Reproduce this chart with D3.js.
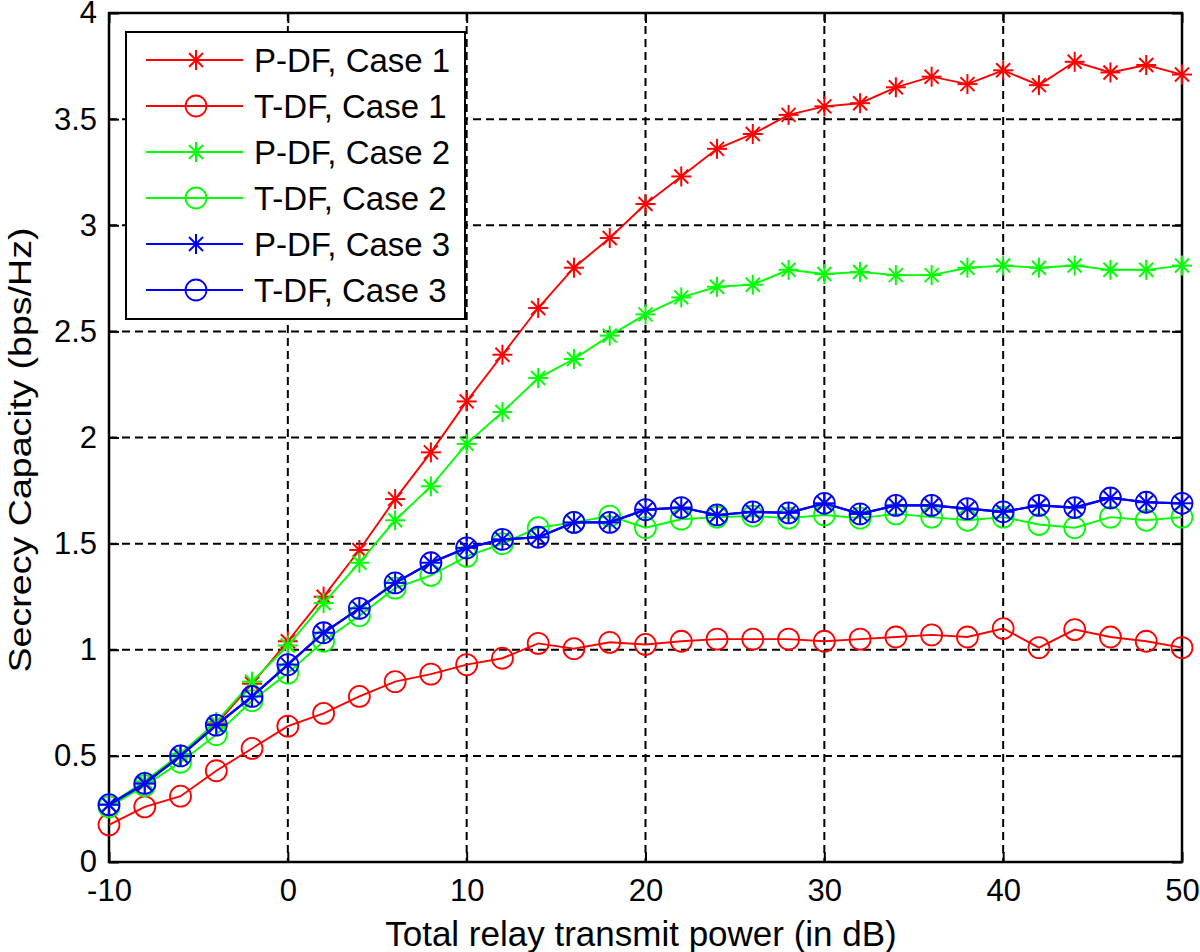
<!DOCTYPE html>
<html>
<head>
<meta charset="utf-8">
<script src="https://cdn.jsdelivr.net/npm/d3@7"></script>
<style>
  html, body { margin: 0; padding: 0; background: #fff; }
  svg { display: block; }
  text { font-family: Arial, "Liberation Sans", Helvetica, sans-serif; fill: #000; }
</style>
</head>
<body>
<svg id="chart" width="1200" height="952"></svg>
<script>
// ---- data ----
const xValues = [-10,-8,-6,-4,-2,0,2,4,6,8,10,12,14,16,18,20,22,24,26,28,30,32,34,36,38,40,42,44,46,48,50];

const pdfCase1 = [0.27,0.37,0.50,0.65,0.84,1.04,1.25,1.47,1.71,1.93,2.17,2.39,2.61,2.80,2.94,3.10,3.23,3.36,3.43,3.52,3.56,3.575,3.65,3.70,3.665,3.73,3.66,3.77,3.72,3.755,3.71];
const tdfCase1 = [0.175,0.26,0.31,0.43,0.535,0.64,0.70,0.78,0.85,0.885,0.93,0.96,1.03,1.005,1.035,1.025,1.04,1.05,1.05,1.05,1.04,1.05,1.06,1.07,1.06,1.10,1.01,1.095,1.06,1.04,1.01];
const pdfCase2 = [0.27,0.38,0.51,0.66,0.85,1.02,1.22,1.41,1.61,1.77,1.97,2.12,2.28,2.37,2.48,2.58,2.66,2.71,2.72,2.79,2.77,2.78,2.765,2.765,2.80,2.81,2.80,2.81,2.79,2.79,2.81];
const tdfCase2 = [0.26,0.36,0.47,0.60,0.76,0.89,1.04,1.16,1.29,1.35,1.44,1.50,1.575,1.60,1.63,1.575,1.615,1.625,1.63,1.62,1.635,1.62,1.64,1.625,1.61,1.625,1.59,1.575,1.625,1.61,1.625];
const pdfCase3 = [0.27,0.37,0.50,0.645,0.78,0.93,1.08,1.195,1.315,1.41,1.48,1.52,1.53,1.60,1.60,1.66,1.67,1.635,1.65,1.645,1.69,1.64,1.68,1.68,1.665,1.65,1.68,1.67,1.715,1.695,1.69];
const tdfCase3 = [0.27,0.37,0.50,0.645,0.78,0.93,1.08,1.195,1.315,1.41,1.48,1.52,1.53,1.60,1.60,1.66,1.67,1.635,1.65,1.645,1.69,1.64,1.68,1.68,1.665,1.65,1.68,1.67,1.715,1.695,1.69];

const seriesNames = ["P-DF, Case 1","T-DF, Case 1","P-DF, Case 2","T-DF, Case 2","P-DF, Case 3","T-DF, Case 3"];
const seriesValues = [pdfCase1, tdfCase1, pdfCase2, tdfCase2, pdfCase3, tdfCase3];
const seriesColors = ["#ff0000","#ff0000","#00ff00","#00ff00","#0000ff","#0000ff"];
const seriesMarkers = ["star","circle","star","circle","star","circle"];

const xTicks = [-10,0,10,20,30,40,50];
const xTickLabels = ["-10","0","10","20","30","40","50"];
const yTicks = [0,0.5,1,1.5,2,2.5,3,3.5,4];
const yTickLabels = ["0","0.5","1","1.5","2","2.5","3","3.5","4"];
const xLabel = "Total relay transmit power (in dB)";
const yLabel = "Secrecy Capacity (bps/Hz)";

// ---- layout ----
const L = 109, R = 1182, T = 13, B = 862;
const svg = d3.select("#chart");
const x = d3.scaleLinear().domain([-10, 50]).range([L, R]);
const y = d3.scaleLinear().domain([0, 4]).range([B, T]);

// grid
const grid = svg.append("g");
grid.selectAll("line.gx").data(xTicks.slice(1, -1)).enter().append("line")
  .attr("x1", d => x(d)).attr("x2", d => x(d)).attr("y1", T).attr("y2", B)
  .attr("stroke", "#000").attr("stroke-width", 2).attr("stroke-dasharray", "8,5");
grid.selectAll("line.gy").data(yTicks.slice(1, -1)).enter().append("line")
  .attr("x1", L).attr("x2", R).attr("y1", d => y(d)).attr("y2", d => y(d))
  .attr("stroke", "#000").attr("stroke-width", 2).attr("stroke-dasharray", "8,5");

// axes with inward ticks
const tickLen = 10;
const axB = svg.append("g").attr("transform", `translate(0,${B})`)
  .call(d3.axisBottom(x).tickValues(xTicks).tickSizeInner(-tickLen).tickSizeOuter(0).tickPadding(17).tickFormat((d, i) => xTickLabels[i]));
const axT = svg.append("g").attr("transform", `translate(0,${T})`)
  .call(d3.axisTop(x).tickValues(xTicks).tickSizeInner(-tickLen).tickSizeOuter(0).tickFormat(""));
const axL = svg.append("g").attr("transform", `translate(${L},0)`)
  .call(d3.axisLeft(y).tickValues(yTicks).tickSizeInner(-tickLen).tickSizeOuter(0).tickPadding(12).tickFormat((d, i) => yTickLabels[i]));
const axR = svg.append("g").attr("transform", `translate(${R},0)`)
  .call(d3.axisRight(y).tickValues(yTicks).tickSizeInner(-tickLen).tickSizeOuter(0).tickFormat(""));
[axB, axT, axL, axR].forEach(a => {
  a.select(".domain").remove();
  a.selectAll(".tick line").attr("stroke", "#000").attr("stroke-width", 2);
  a.selectAll("text").style("font-size", "31px").attr("fill", "#000");
});
axB.selectAll("text").attr("dy", "0.71em");

// box
svg.append("rect").attr("x", L).attr("y", T).attr("width", R - L).attr("height", B - T)
  .attr("fill", "none").attr("stroke", "#000").attr("stroke-width", 2.5);

// marker drawing
function drawMarker(g, type, color, cx, cy) {
  if (type === "circle") {
    g.append("circle").attr("cx", cx).attr("cy", cy).attr("r", 10.5)
      .attr("fill", "none").attr("stroke", color).attr("stroke-width", 1.8);
  } else {
    const s = 10, d = 7;
    const segs = [[0,-s,0,s],[-s,0,s,0],[-d,-d,d,d],[-d,d,d,-d]];
    segs.forEach(p => g.append("line")
      .attr("x1", cx + p[0]).attr("y1", cy + p[1]).attr("x2", cx + p[2]).attr("y2", cy + p[3])
      .attr("stroke", color).attr("stroke-width", 2));
  }
}

// series
const line = d3.line().x(d => x(d[0])).y(d => y(d[1]));
const plot = svg.append("g");
seriesValues.forEach((vals, i) => {
  const pts = xValues.map((xv, j) => [xv, vals[j]]);
  const g = plot.append("g");
  g.append("path").datum(pts).attr("d", line).attr("fill", "none")
    .attr("stroke", seriesColors[i]).attr("stroke-width", i >= 4 ? 2.2 : 1.9);
  pts.forEach(p => drawMarker(g, seriesMarkers[i], seriesColors[i], x(p[0]), y(p[1])));
});

// axis labels
svg.append("text").attr("x", 641).attr("y", 946).attr("text-anchor", "middle")
  .style("font-size", "35px").text(xLabel);
svg.append("text").attr("transform", "translate(31,450) rotate(-90)").attr("text-anchor", "middle")
  .style("font-size", "32px").attr("textLength", 445).attr("lengthAdjust", "spacingAndGlyphs").text(yLabel);

// legend
const lg = svg.append("g");
lg.append("rect").attr("x", 126).attr("y", 32).attr("width", 339).attr("height", 287)
  .attr("fill", "#fff").attr("stroke", "#000").attr("stroke-width", 2);
seriesNames.forEach((name, i) => {
  const cy = 60 + i * 46;
  lg.append("line").attr("x1", 146).attr("x2", 243).attr("y1", cy).attr("y2", cy)
    .attr("stroke", seriesColors[i]).attr("stroke-width", 1.9);
  drawMarker(lg, seriesMarkers[i], seriesColors[i], 196, cy);
  lg.append("text").attr("x", 254).attr("y", cy + 12).style("font-size", "33px").text(name);
});
</script>
</body>
</html>
